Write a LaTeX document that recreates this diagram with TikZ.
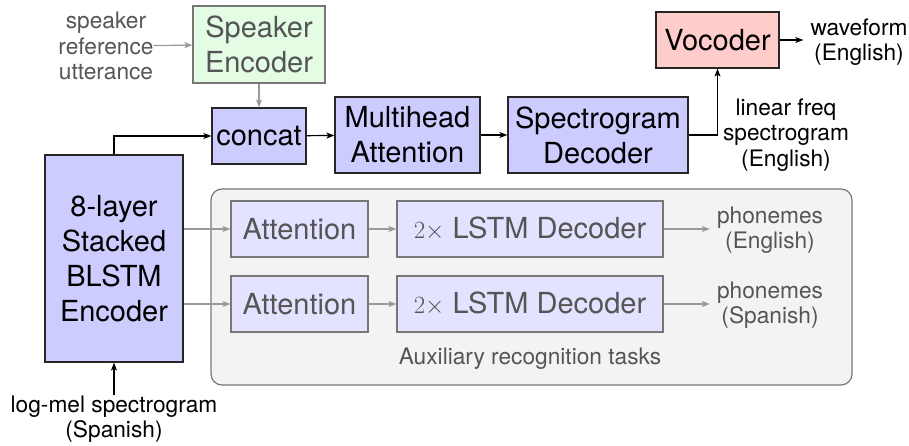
\documentclass[tikz,border=0pt]{standalone}
\usepackage{fontspec}
\setmainfont{TeX Gyre Heros}
\usetikzlibrary{arrows.meta}
\definecolor{bluefill}{HTML}{CCCCFF}
\definecolor{lightblue}{HTML}{E3E3FF}
\definecolor{greenfill}{HTML}{E3FCE3}
\definecolor{pinkfill}{HTML}{FFCCCC}
\definecolor{auxfill}{HTML}{F3F3F3}
\definecolor{txtgray}{HTML}{555555}
\definecolor{linegray}{HTML}{999999}
\definecolor{bordergray}{HTML}{777777}
\tikzset{
  main/.style={draw=black!85, line width=1.2pt, inner sep=0pt, font=\fontsize{29}{35}\selectfont, align=center},
  bluebox/.style={main, fill=bluefill},
  auxbox/.style={draw=bordergray, line width=1.2pt, fill=lightblue, inner sep=0pt, text=txtgray, font=\fontsize{29}{35}\selectfont},
  small/.style={font=\fontsize{22.7}{25.5}\selectfont, align=center, inner sep=0pt},
  arr/.style={-{Stealth[length=8pt,width=6pt,inset=2pt]}, line width=1.2pt},
  garr/.style={arr, draw=linegray},
}
\begin{document}
\begin{tikzpicture}[x=1pt,y=-1pt]
\useasboundingbox (0,0) rectangle (909,446);
% auxiliary container
\node[draw=bordergray, line width=1.2pt, fill=auxfill, rounded corners=11pt, minimum width=641pt, minimum height=196pt, inner sep=0pt] (aux) at (531.5,287) {};
\node[small, text=txtgray] (auxlbl) at (530,359) {Auxiliary recognition tasks};

% speaker encoder
\node[main, draw=bordergray, fill=greenfill, text=txtgray, minimum width=132pt, minimum height=77pt] (spk) at (259,44.5) {Speaker\\Encoder};
\node[small, text=txtgray] (spkin) at (106,46) {speaker\\reference\\utterance};

% main chain
\node[bluebox, minimum width=94pt, minimum height=56pt] (concat) at (259,136) {concat};
\node[bluebox, minimum width=145pt, minimum height=76pt] (mha) at (407.5,135) {Multihead\\Attention};
\node[bluebox, minimum width=180pt, minimum height=76pt] (spec) at (598,135) {Spectrogram\\Decoder};
\node[main, fill=pinkfill, minimum width=123pt, minimum height=56pt] (voc) at (717.5,40) {Vocoder};
\node[bluebox, minimum width=138pt, minimum height=207pt] (enc) at (114,258.5) {8-layer\\Stacked\\BLSTM\\Encoder};

\node[small] (wave) at (859,42) {waveform\\(English)};
\node[small] (lin) at (786,135) {linear freq\\spectrogram\\(English)};
\node[small] (logmel) at (114,419) {log-mel spectrogram\\(Spanish)};

\draw[garr] (spkin) -- (spk);
\draw[garr] (spk) -- (concat);
\draw[arr] (enc.north) |- (concat.west);
\draw[arr] (concat) -- (mha);
\draw[arr] (mha) -- (spec);
\coordinate (turn) at (voc.south |- spec.east);
\draw[arr] (spec.east) -- (turn) -- (voc.south);
\draw[arr, shorten >=7pt] (voc.east) -- (wave.west |- voc.east);
\draw[arr] (logmel.north) -- (enc.south);

% auxiliary tasks
\node[auxbox, minimum width=137pt, minimum height=56pt] (att1) at (299.5,229) {Attention};
\node[auxbox, minimum width=137pt, minimum height=56pt] (att2) at (299.5,304) {Attention};
\node[auxbox, minimum width=266pt, minimum height=56pt] (lstm1) at (530,229) {$2\times$ LSTM Decoder};
\node[auxbox, minimum width=266pt, minimum height=56pt] (lstm2) at (530,304) {$2\times$ LSTM Decoder};
\node[small, text=txtgray] (ph1) at (770,230) {phonemes\\(English)};
\node[small, text=txtgray] (ph2) at (770,305) {phonemes\\(Spanish)};

\draw[garr] (enc.east |- att1) -- (att1);
\draw[garr] (enc.east |- att2) -- (att2);
\draw[garr] (att1) -- (lstm1);
\draw[garr] (att2) -- (lstm2);
\draw[garr, shorten >=7pt] (lstm1) -- (ph1.west |- lstm1.east);
\draw[garr, shorten >=7pt] (lstm2) -- (ph2.west |- lstm2.east);
\end{tikzpicture}
\end{document}
